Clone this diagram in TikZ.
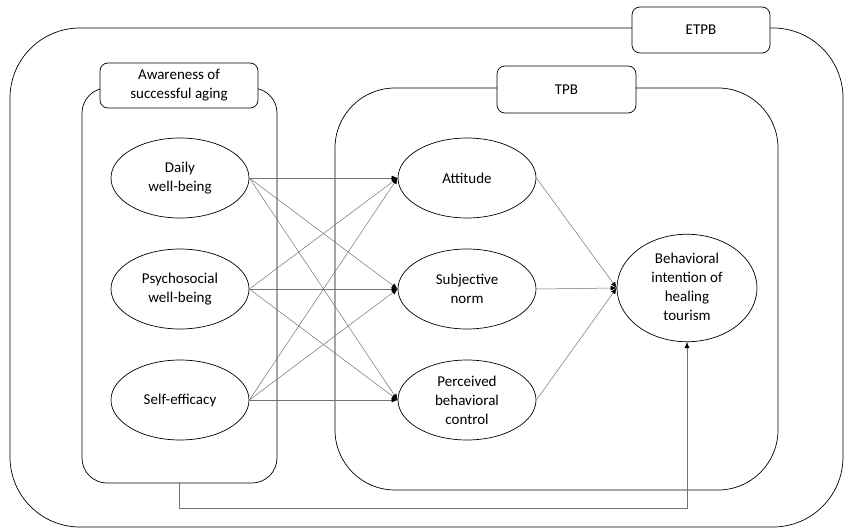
\documentclass[tikz,border=0pt]{standalone}
\usepackage{fontspec}
\setmainfont{Carlito}
\usetikzlibrary{shapes.geometric,arrows.meta}

\begin{document}
\begin{tikzpicture}[x=1pt,y=-1pt,
        font=\fontsize{15}{19}\selectfont,
        construct/.style={ellipse,draw,line width=0.7pt,inner sep=0pt,minimum width=138,minimum height=80,align=center},
        group/.style={draw,line width=0.7pt,inner sep=0pt},
        tag/.style={draw,fill=white,line width=0.7pt,rounded corners=8,inner sep=0pt,align=center},
        path/.style={draw=black!55,line width=0.5pt,-{Latex[length=6pt,width=5pt,color=black]}}]
        \useasboundingbox (0,0) rectangle (844,530);

        % containers
        \node[group,rounded corners=70,minimum width=833,minimum height=499] (etpb) at (426.5,277.5){};
        \node[group,rounded corners=25,minimum width=195,minimum height=395] (aware) at (179.5,285.5){};
        \node[group,rounded corners=60,minimum width=443,minimum height=402] (tpb) at (556.5,289){};

        \node[tag,minimum width=138,minimum height=46] (etpbtag) at (701,30){ETPB};
        \node[tag,minimum width=158,minimum height=45] (awaretag) at (179,85.5){Awareness of\\successful aging};
        \node[tag,minimum width=139,minimum height=47] (tpbtag) at (566.5,89.5){TPB};

        % constructs
        \node[construct] (1) at (180,178){Daily\\well-being};
        \node[construct] (2) at (180,289){Psychosocial\\well-being};
        \node[construct] (3) at (180,400){Self-efficacy};

        \node[construct] (4) at (467,178){Attitude};
        \node[construct] (5) at (467,289){Subjective\\norm};
        \node[construct] (6) at (467,400){Perceived\\behavioral\\control};

        \node[construct,minimum width=140,minimum height=77] (7) at (687,288){\raisebox{-3pt}{\begin{tabular}{@{}c@{}}Behavioral\\intention of\\healing\\tourism\end{tabular}}};

        \path (1.east) edge[path] (4.west);
        \path (1.east) edge[path] (5.west);
        \path (1.east) edge[path] (6.west);

        \path (2.east) edge[path] (4.west);
        \path (2.east) edge[path] (5.west);
        \path (2.east) edge[path] (6.west);

        \path (3.east) edge[path] (4.west);
        \path (3.east) edge[path] (5.west);
        \path (3.east) edge[path] (6.west);

        \path (4.east) edge[path] (7.west);
        \path (5.east) edge[path] (7.west);
        \path (6.east) edge[path] (7.west);

        \draw[path] (aware.south) -- ++(0,25) -| (7.south);

    \end{tikzpicture}
\end{document}
